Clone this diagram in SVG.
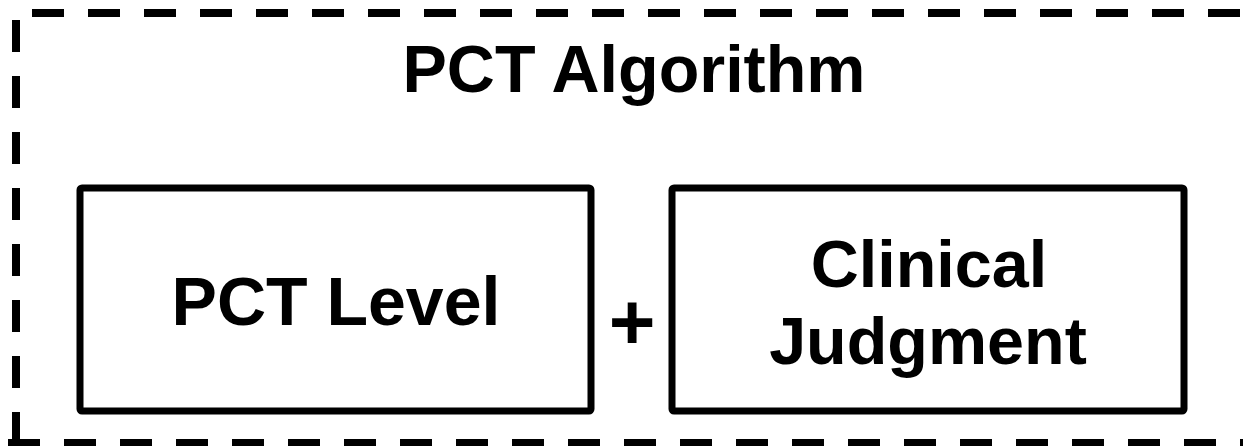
<svg xmlns="http://www.w3.org/2000/svg" width="1243" height="446" viewBox="0 0 1243 446">
<style>
.t{font-family:"Liberation Sans",Arial,Helvetica,sans-serif;font-weight:bold;font-size:68px;fill:#000;text-anchor:middle}
.s{font-size:66.5px}
.box{fill:#fff;stroke:#000;stroke-width:7;stroke-linejoin:round}
.dash{stroke:#000;stroke-width:8;stroke-dasharray:32 24;fill:none}
</style>
<rect width="1243" height="446" fill="#fff"/>
<g id="container">
<line class="dash" x1="32" y1="13" x2="1243" y2="13"/>
<line class="dash" x1="16" y1="20" x2="16" y2="446"/>
<line class="dash" x1="8" y1="443" x2="1243" y2="443"/>
<text class="t s" x="634" y="92">PCT Algorithm</text>
</g>
<g id="pct-level">
<rect class="box" x="80" y="188" width="511" height="223" rx="2"/>
<text class="t" x="336" y="325">PCT Level</text>
</g>
<g id="connectors">
<text class="t" x="632" y="349" style="font-size:80px">+</text>
</g>
<g id="clinical-judgment">
<rect class="box" x="672" y="188" width="512" height="223" rx="2"/>
<text class="t s" x="929" y="287">Clinical</text>
<text class="t s" x="928" y="364">Judgment</text>
</g>
</svg>
